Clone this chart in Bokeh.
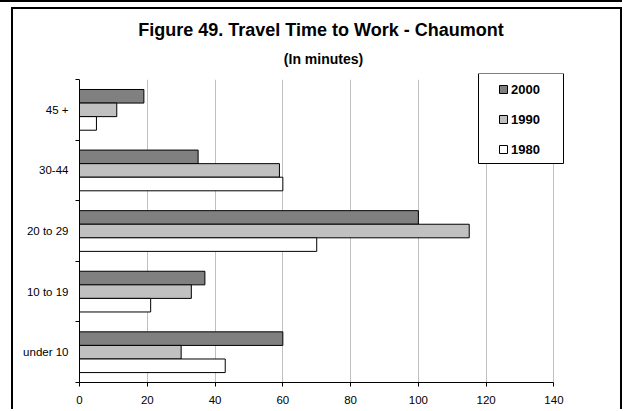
from bokeh.plotting import figure
from bokeh.layouts import column
from bokeh.models import (Range1d, FixedTicker, Legend, LegendItem, Title,
                          ColumnDataSource, BoxAnnotation)
from bokeh.embed import file_html
from bokeh.resources import INLINE

# ---- data ----
categories = ["under 10", "10 to 19", "20 to 29", "30-44", "45 +"]
years = ["2000", "1990", "1980"]
v2000 = [60, 37, 100, 35, 19]
v1990 = [30, 33, 115, 59, 11]
v1980 = [43, 21, 70, 60, 5]
x_ticks = [0, 20, 40, 60, 80, 100, 120, 140]
title_text = "Figure 49.  Travel Time to Work - Chaumont"
subtitle_text = "(In minutes)"

# ---- style ----
FONT = "Liberation Sans"
colors = ["#808080", "#C0C0C0", "#FFFFFF"]
bar_h = 0.224
offsets = [bar_h, 0.0, -bar_h]

p = figure(width=611, height=402, output_backend="svg", toolbar_location=None,
           title=None,
           x_range=Range1d(0, 144), y_range=Range1d(0, len(categories) + 0.1),
           min_border_left=66, min_border_top=64, min_border_right=57,
           min_border_bottom=29)
p.styles = {"border-left": "2px solid black", "border-right": "2px solid black",
            "border-top": "2px solid black"}
p.background_fill_color = "white"
p.border_fill_color = "white"
p.outline_line_color = None

centers = [i + 0.5 for i in range(len(categories))]
series = [v2000, v1990, v1980]
legend_items = []
for year, vals, off, col in zip(years, series, offsets, colors):
    src = ColumnDataSource(dict(y=[c + off for c in centers], right=vals))
    r = p.hbar(y="y", left=0, right="right", height=bar_h, source=src,
               fill_color=col, line_color="black", line_width=1)
    legend_items.append(LegendItem(label=year, renderers=[r]))

# x axis
p.xaxis.ticker = FixedTicker(ticks=x_ticks)
p.xaxis.bounds = (x_ticks[0], x_ticks[-1])
p.xaxis.major_tick_out = 4
p.xaxis.major_tick_in = 0
p.xaxis.minor_tick_line_color = None
p.xaxis.major_label_standoff = 9
p.xgrid.ticker = FixedTicker(ticks=x_ticks)
p.xgrid.grid_line_color = "#C0C0C0"
if "cross_bounds" in p.xgrid[0].properties():
    p.xgrid[0].cross_bounds = (0, len(categories))
p.ygrid.grid_line_color = None

# y axis: labels at category centres, ticks at boundaries
p.yaxis.ticker = FixedTicker(ticks=centers, minor_ticks=list(range(len(categories) + 1)))
p.yaxis.bounds = (0, len(categories))
p.yaxis.major_label_overrides = {c: name for c, name in zip(centers, categories)}
p.yaxis.major_tick_line_color = None
p.yaxis.major_tick_out = 0
p.yaxis.major_tick_in = 0
p.yaxis.minor_tick_out = 4
p.yaxis.minor_tick_in = 0
p.yaxis.minor_tick_line_color = "black"
p.yaxis.major_label_standoff = 7

for ax in (p.xaxis[0], p.yaxis[0]):
    ax.axis_line_color = "black"
    ax.axis_line_width = 1
    ax.major_label_text_font = FONT
    ax.major_label_text_font_size = "11.5px"
    ax.major_label_text_color = "black"

sub = Title(text=subtitle_text, align="center", text_font=FONT, text_font_size="14px",
            text_font_style="bold", text_color="black", standoff=14)
p.add_layout(sub, "above")
main = Title(text=title_text, align="center", text_font=FONT, text_font_size="18px",
             text_font_style="bold", text_color="black", standoff=4)
p.add_layout(main, "above")

# white band hiding the grid above the top category boundary
band = BoxAnnotation(bottom=303, bottom_units="screen",
                     fill_color="white", fill_alpha=1.0, line_alpha=0.0)
p.add_layout(band)

# legend frame
box = BoxAnnotation(left=399, right=484, bottom=219, top=309,
                    left_units="screen", right_units="screen",
                    bottom_units="screen", top_units="screen",
                    fill_color="white", fill_alpha=1.0,
                    line_color="black", line_width=1, line_alpha=1.0)
p.add_layout(box)

legend = Legend(items=legend_items, location=(419, 225), padding=0, spacing=14,
                glyph_width=10, glyph_height=10, label_standoff=3,
                label_height=16, label_text_font=FONT, label_text_font_size="13px",
                label_text_font_style="bold", label_text_color="black",
                border_line_color=None, background_fill_alpha=0.0, margin=0)
p.add_layout(legend)

lay = column(p)
lay.styles = {"border-top": "2px solid black", "padding-top": "5px",
              "padding-left": "11px"}

open("out.html", "w").write(file_html(lay, INLINE))
